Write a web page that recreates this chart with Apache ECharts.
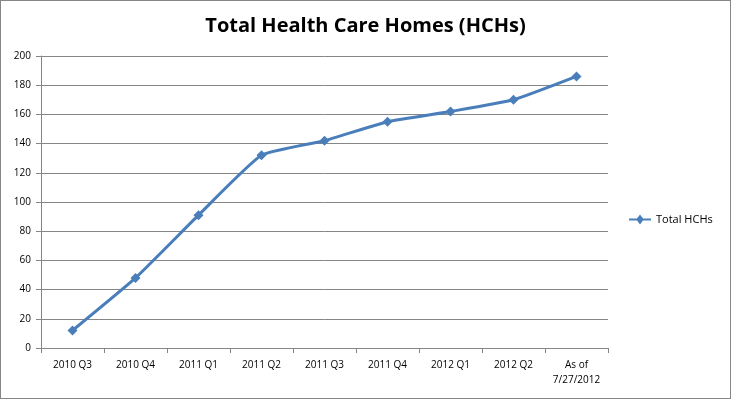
<!DOCTYPE html>
<html>
<head>
<meta charset="utf-8">
<script src="https://cdn.jsdelivr.net/npm/echarts@6/dist/echarts.min.js"></script>
<style>
html, body { margin: 0; padding: 0; background: #fff; }
#mainchart { width: 731px; height: 399px; box-sizing: border-box; border: 1px solid #868686; }
</style>
</head>
<body>
<div id="mainchart"></div>
<script>
var categories = ['2010 Q3', '2010 Q4', '2011 Q1', '2011 Q2', '2011 Q3', '2011 Q4', '2012 Q1', '2012 Q2', 'As of\n7/27/2012'];
var totalHCHs = [12, 48, 91, 132, 142, 155, 162, 170, 186];
var yTicks = { min: 0, max: 200, interval: 20 };

var chart = echarts.init(document.getElementById('mainchart'));
var font = 'Open Sans, Liberation Sans, sans-serif';

var option = {
	animation: false,
	title: {
		text: 'Total Health Care Homes (HCHs)',
		left: 'center',
		top: 10,
		textStyle: { fontFamily: font, fontSize: 20, fontWeight: 'bold', color: '#000' }
	},
	legend: {
		left: 623,
		top: 208,
		icon: 'path://M0,4 L8,4 L11,0 L14,4 L22,4 L22,6 L14,6 L11,10 L8,6 L0,6 Z',
		itemWidth: 22,
		itemHeight: 10,
		itemGap: 6,
		textStyle: { fontFamily: font, fontSize: 11, color: '#000' },
		data: ['Total HCHs']
	},
	grid: { left: 40, right: 122, top: 55, bottom: 50 },
	xAxis: {
		type: 'category',
		data: categories,
		boundaryGap: true,
		axisLine: { lineStyle: { color: '#868686' } },
		axisTick: { show: true, length: 5, interval: 0, lineStyle: { color: '#868686' } },
		axisLabel: { fontFamily: font, fontSize: 10, color: '#000', margin: 10, interval: 0, lineHeight: 15 }
	},
	yAxis: {
		type: 'value',
		min: yTicks.min,
		max: yTicks.max,
		interval: yTicks.interval,
		axisLine: { show: true, lineStyle: { color: '#868686' } },
		axisTick: { show: true, length: 5, lineStyle: { color: '#868686' } },
		axisLabel: { fontFamily: font, fontSize: 10, color: '#000', margin: 10 },
		splitLine: { lineStyle: { color: '#868686' } }
	},
	series: [{
		name: 'Total HCHs',
		type: 'line',
		data: totalHCHs,
		smooth: 0.15,
		symbol: 'diamond',
		symbolSize: 10,
		lineStyle: { width: 3, color: '#4A7EBB' },
		itemStyle: { color: '#4A7EBB' }
	}]
};
chart.setOption(option);
</script>
</body>
</html>
